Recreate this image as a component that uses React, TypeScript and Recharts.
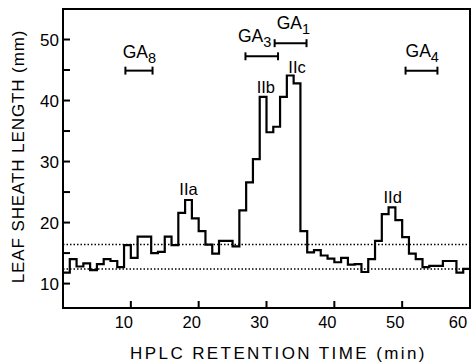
import React from "react";
import {
  ComposedChart,
  Line,
  Scatter,
  XAxis,
  YAxis,
  ReferenceLine,
  ReferenceArea,
} from "recharts";

// leaf sheath length (mm) for each 1-min HPLC fraction, starting at 0 min
const LENGTH = [
  11.8, 14.0, 12.8, 13.3, 12.2, 13.2, 14.0, 13.7, 12.7, 16.3,
  14.2, 17.7, 17.7, 15.0, 15.2, 17.7, 16.3, 21.6, 23.7, 20.7,
  18.6, 16.4, 14.9, 17.0, 17.0, 16.1, 22.0, 26.6, 30.4, 40.6,
  34.8, 35.7, 40.6, 44.1, 42.8, 18.6, 15.1, 15.5, 14.6, 14.1,
  13.5, 14.2, 13.1, 13.2, 11.9, 14.0, 17.0, 21.4, 22.5, 20.4,
  17.6, 14.9, 14.0, 12.7, 12.9, 12.9, 13.7, 13.7, 11.8, 12.4,
];

const TIME_TICKS = [10, 20, 30, 40, 50, 60];
const LENGTH_TICKS = [10, 15, 20, 25, 30, 35, 40, 45, 50];
const CONTROL_LINES = [16.4, 12.4];

const GA_NAMES = ["8", "3", "1", "4"];
const GA_START = [9.2, 26.9, 31.2, 50.5];
const GA_END = [13.2, 31.7, 35.9, 55.2];
const GA_LEVEL = [44.9, 47.25, 49.4, 44.9];
const GA_LABEL_T = [8.8, 25.8, 31.5, 50.5];
const GA_LABEL_V = [47.0, 49.6, 51.7, 47.1];

const PEAK_NAMES = ["IIa", "IIb", "IIc", "IId"];
const PEAK_T = [18.5, 29.9, 34.5, 48.6];
const PEAK_V = [24.5, 41.2, 44.5, 23.2];

const FONT = '"Liberation Sans", Arial, Helvetica, sans-serif';

const data = [
  ...LENGTH.map((v, i) => ({ t: i, v })),
  { t: 60, v: LENGTH[LENGTH.length - 1] },
];

const gaLabels = GA_NAMES.map((n, i) => ({ t: GA_LABEL_T[i], v: GA_LABEL_V[i], n }));
const peakLabels = PEAK_NAMES.map((n, i) => ({ t: PEAK_T[i], v: PEAK_V[i], n }));

const XTick = (props: any) => {
  const { x, y, payload } = props;
  return (
    <g>
      {payload.value < 60 && (
        <line x1={x} y1={y} x2={x} y2={y - 7} stroke="#000" strokeWidth={2} />
      )}
      <text x={x - 7} y={y + 20} textAnchor="middle" fontSize={16.5} fontFamily={FONT} fill="#000">
        {payload.value}
      </text>
    </g>
  );
};

const YTick = (props: any) => {
  const { x, y, payload } = props;
  return (
    <g>
      <line x1={x} y1={y} x2={x + 7} y2={y} stroke="#000" strokeWidth={2} />
      {payload.value % 10 === 0 && (
        <text x={x - 4} y={y + 6} textAnchor="end" fontSize={17} fontFamily={FONT} fill="#000">
          {payload.value}
        </text>
      )}
    </g>
  );
};

const GaShape = (props: any) => {
  const { cx, cy, payload } = props;
  return (
    <text x={cx} y={cy} fontSize={17.5} fontFamily={FONT} fill="#000">
      GA
      <tspan fontSize={14.5} dy={5}>{payload.n}</tspan>
    </text>
  );
};

const PeakShape = (props: any) => {
  const { cx, cy, payload } = props;
  return (
    <text x={cx} y={cy} textAnchor="middle" fontSize={16.5} fontFamily={FONT} fill="#000">
      {payload.n}
    </text>
  );
};

export default function App() {
  return (
    <div style={{ position: "absolute", left: 0, top: 0, background: "#fff" }}>
      <ComposedChart
        width={473}
        height={363}
        data={data}
        margin={{ top: 9, right: 3, bottom: 0, left: 0 }}
      >
        <XAxis
          type="number"
          dataKey="t"
          domain={[0, 60]}
          ticks={TIME_TICKS}
          axisLine={false}
          tickLine={false}
          tickSize={0}
          tickMargin={0}
          tick={<XTick />}
          height={55}
          allowDataOverflow
          label={{
            content: ({ viewBox }: any) => (
              <text
                x={viewBox.x + viewBox.width / 2 + 12}
                y={viewBox.y + 51}
                textAnchor="middle"
                fontSize={17}
                letterSpacing={2.4}
                fontFamily={FONT}
                fill="#000"
              >
                HPLC RETENTION TIME (min)
              </text>
            ),
          }}
        />
        <YAxis
          type="number"
          domain={[6, 55]}
          ticks={LENGTH_TICKS}
          axisLine={false}
          tickLine={false}
          tickSize={0}
          tickMargin={0}
          tick={<YTick />}
          width={63}
          allowDataOverflow
          label={{
            content: ({ viewBox }: any) => {
              const cx = 18;
              const cy = viewBox.y + viewBox.height / 2 - 2;
              return (
                <text
                  x={cx}
                  y={cy}
                  transform={`rotate(-90, ${cx}, ${cy})`}
                  textAnchor="middle"
                  dominantBaseline="central"
                  fontSize={17}
                  letterSpacing={0.9}
                  fontFamily={FONT}
                  fill="#000"
                >
                  LEAF SHEATH LENGTH (mm)
                </text>
              );
            },
          }}
        />
        <ReferenceArea x1={0} x2={60} y1={6} y2={55} fill="none" stroke="#000" strokeWidth={2} />
        {CONTROL_LINES.map((c) => (
          <ReferenceLine key={c} y={c} stroke="#000" strokeWidth={1.5} strokeDasharray="1.5 2" />
        ))}
        {GA_NAMES.map((n, i) => (
          <React.Fragment key={n}>
            <ReferenceLine
              segment={[{ x: GA_START[i], y: GA_LEVEL[i] }, { x: GA_END[i], y: GA_LEVEL[i] }]}
              stroke="#000"
              strokeWidth={2}
            />
            <ReferenceLine
              segment={[{ x: GA_START[i], y: GA_LEVEL[i] - 0.65 }, { x: GA_START[i], y: GA_LEVEL[i] + 0.65 }]}
              stroke="#000"
              strokeWidth={2}
            />
            <ReferenceLine
              segment={[{ x: GA_END[i], y: GA_LEVEL[i] - 0.65 }, { x: GA_END[i], y: GA_LEVEL[i] + 0.65 }]}
              stroke="#000"
              strokeWidth={2}
            />
          </React.Fragment>
        ))}
        <Line
          type="stepAfter"
          dataKey="v"
          stroke="#000"
          strokeWidth={2.2}
          dot={false}
          isAnimationActive={false}
        />
        <Scatter data={gaLabels} dataKey="v" shape={<GaShape />} isAnimationActive={false} />
        <Scatter data={peakLabels} dataKey="v" shape={<PeakShape />} isAnimationActive={false} />
      </ComposedChart>
    </div>
  );
}
